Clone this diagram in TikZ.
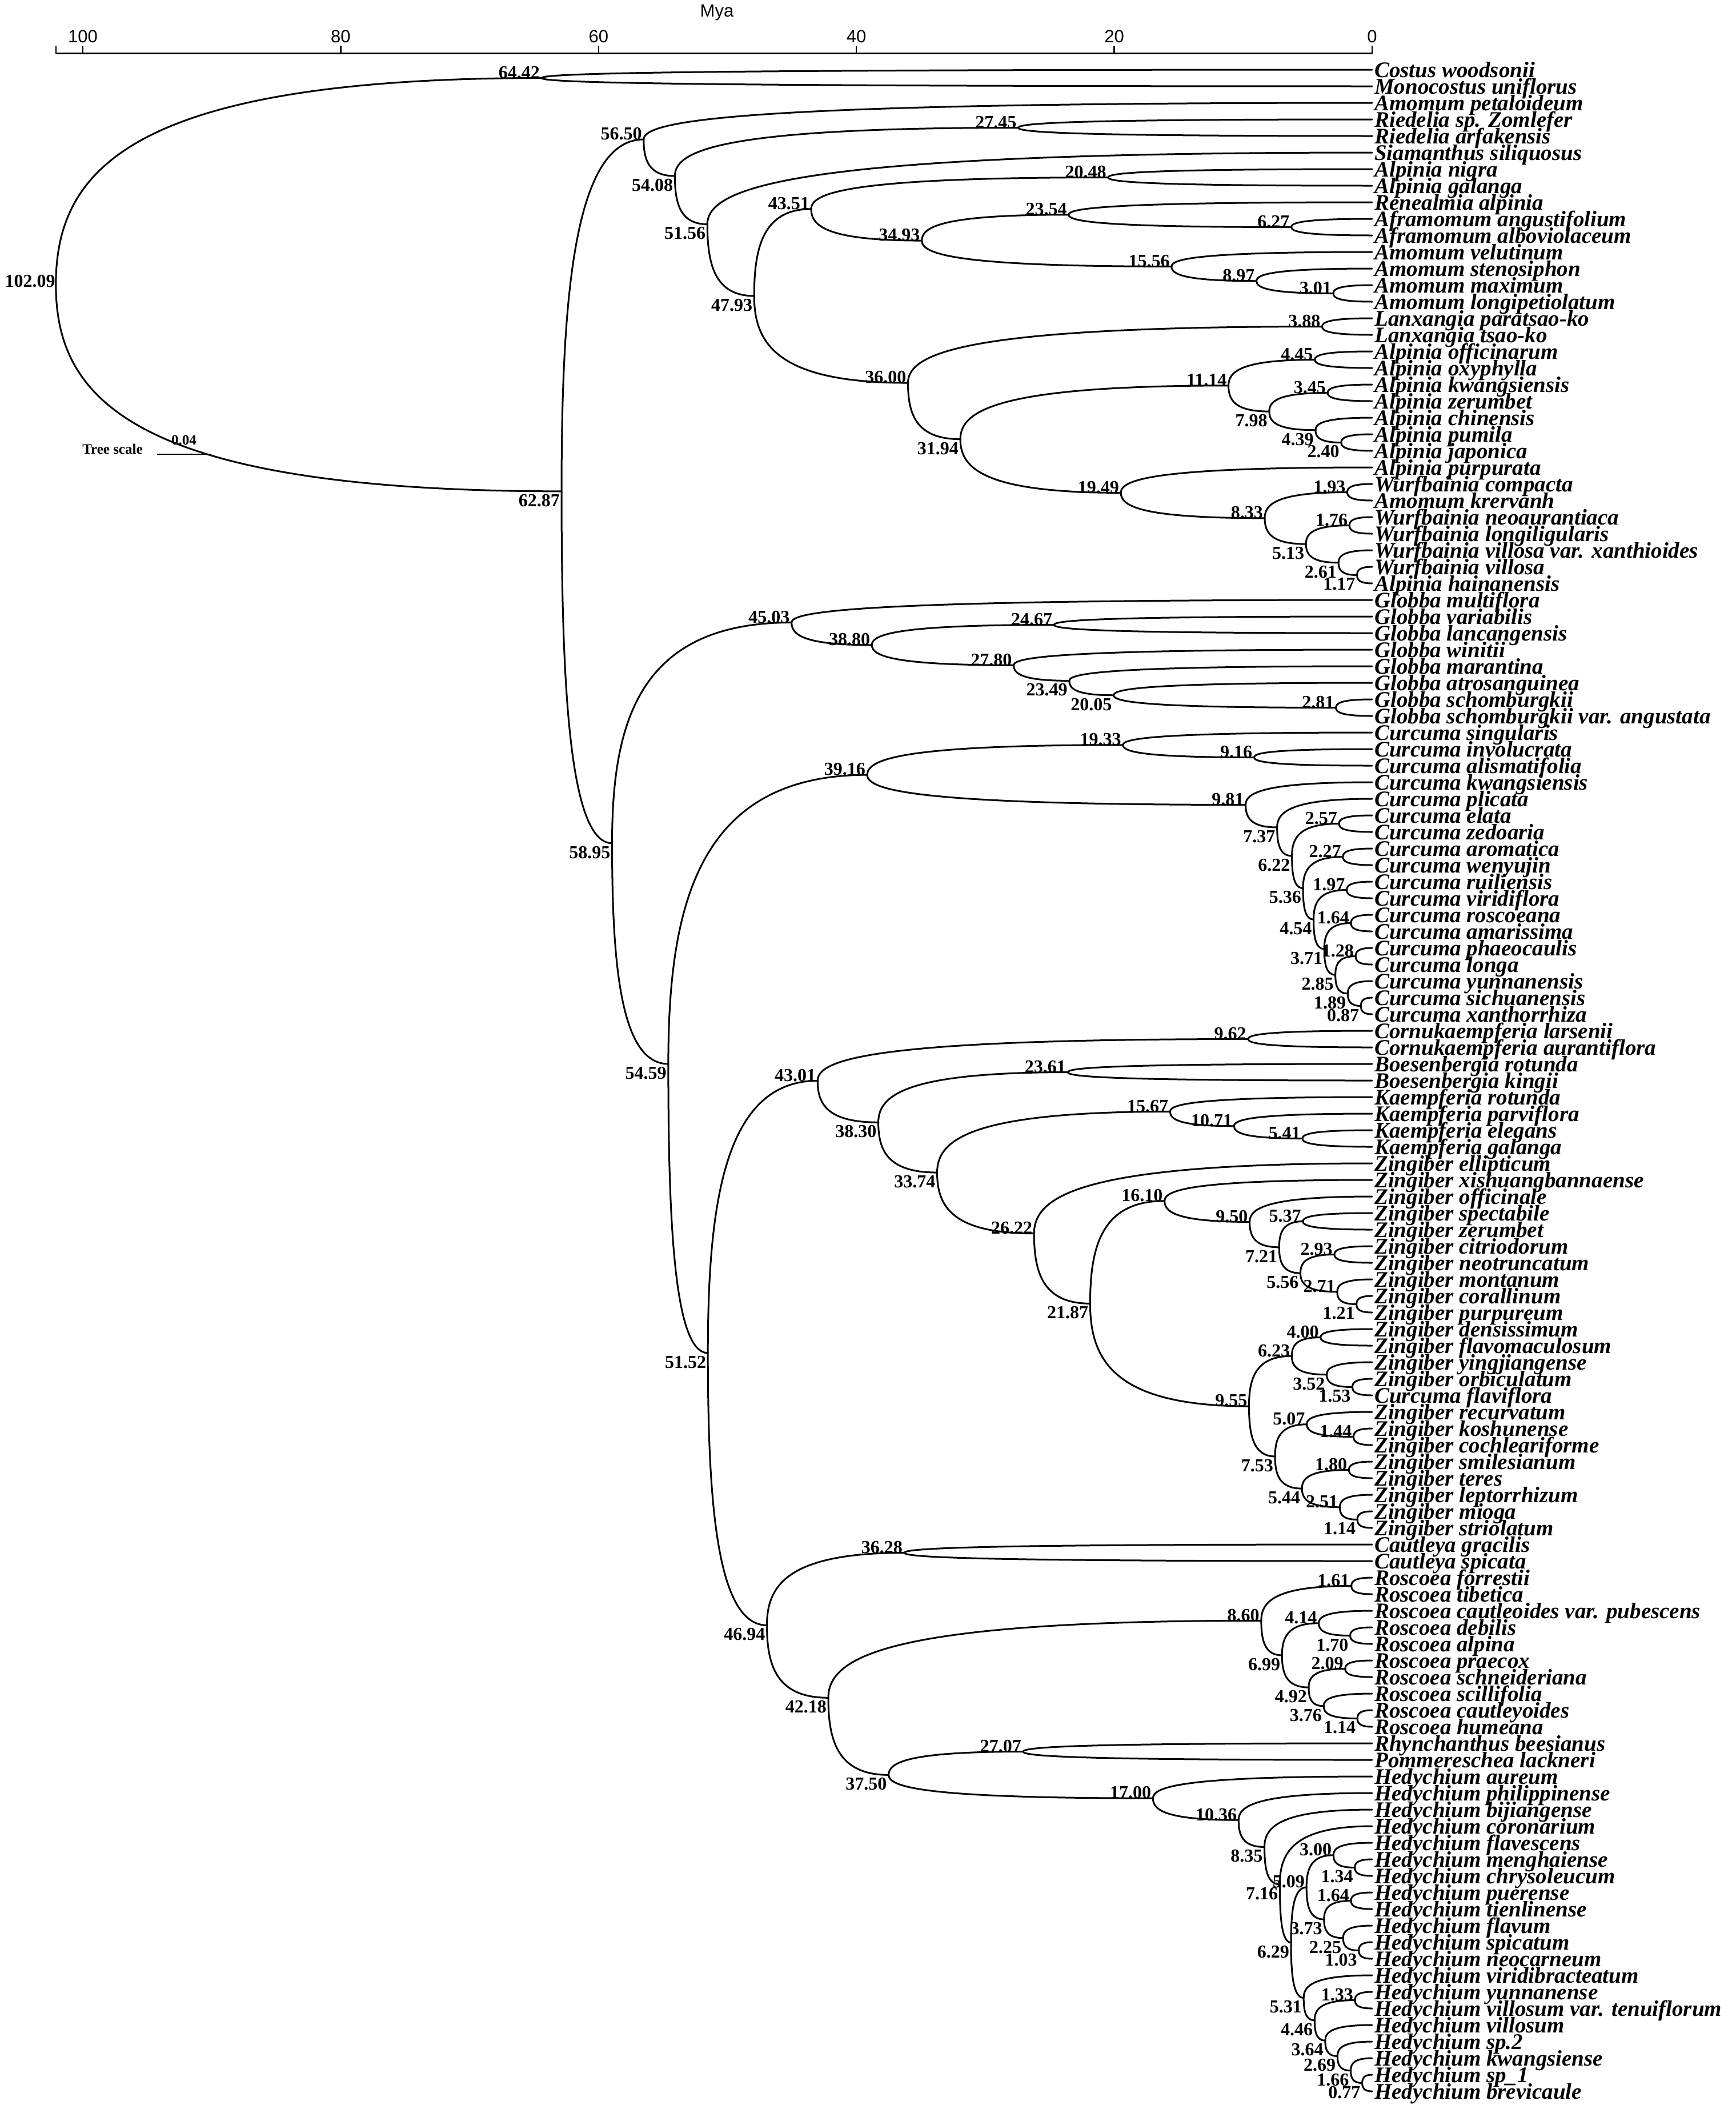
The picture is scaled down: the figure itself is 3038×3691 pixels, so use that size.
\documentclass[tikz,border=0pt]{standalone}
\usepackage{fontspec}
\setmainfont{Liberation Serif}
\newfontfamily\axisfont{Liberation Sans}
\usetikzlibrary{calc}
\tikzset{
 branch/.style={line width=3pt, line cap=round},
 nlab/.style={font=\bfseries\fontsize{32}{32}\selectfont, inner sep=0pt},
 lup/.style={anchor=south east, xshift=-3pt, yshift=-1.5pt},
 ldn/.style={anchor=north east, xshift=-3pt, yshift=-5pt},
 lroot/.style={anchor=east, xshift=-1pt, yshift=6pt},
 tiplab/.style={font=\bfseries\itshape\fontsize{39}{39}\selectfont, inner sep=0pt, anchor=base west},
 axlab/.style={font=\axisfont\fontsize{31}{31}\selectfont, inner sep=0pt},
 sclab/.style={font=\bfseries\fontsize{25}{25}\selectfont, inner sep=0pt},
}
\newcommand\mktip[2]{\coordinate (t#1) at (2402,{122+29*(#1-1)});
  \node[tiplab] (L#1) at ([xshift=4pt,yshift=-13pt]t#1) {#2};}
\newcommand\brn[2]{\draw[branch] let \p1=(#1), \p2=(#2) in (\p1) .. controls (\x1,{\y1+0.55*(\y2-(\y1))}) and ({\x1+0.15*(\x2-(\x1))},\y2) .. (\p2);}
\newcommand\mknd[5]{\path let \p1=($(#3)!.5!(#4)$) in coordinate (#1) at ({(2402-22.57*#2)*1pt},\y1);
  \brn{#1}{#3}\brn{#1}{#4}
  \node[nlab,#5] (lab#1) at (#1) {#2};}
\begin{document}
\begin{tikzpicture}[x=1pt,y=-1pt]
\useasboundingbox (0,0) rectangle (3038,3691);
\fill[white] (0,0) rectangle (3038,3691);
% axis
\coordinate (ax0) at (97.8,93.5);
\coordinate (ax1) at (2402,93.5);
\draw[line width=3.2pt] (ax0) -- (ax1);
\draw[line width=2.4pt] (97.8,80) -- (ax0);
\foreach \v in {100,80,60,40,20,0}{
  \draw[line width=2.4pt] ({2402-22.57*\v},80) -- ({2402-22.57*\v},93.5);
  \node[axlab] (tick\v) at ({2402-22.57*\v},64) {\v};
}
\node[axlab] (mya) at (1255,22) {Mya};
% tree scale
\node[sclab] (ts) at (197,786) {Tree scale};
\node[sclab] (tsv) at (322,770) {0.04};
\coordinate (tsa) at (275,795);
\coordinate (tsb) at (370,795);
\draw[line width=2.6pt] (tsa) -- (tsb);
% tips
\mktip{1}{Costus woodsonii}
\mktip{2}{Monocostus uniflorus}
\mktip{3}{Amomum petaloideum}
\mktip{4}{Riedelia sp. Zomlefer}
\mktip{5}{Riedelia arfakensis}
\mktip{6}{Siamanthus siliquosus}
\mktip{7}{Alpinia nigra}
\mktip{8}{Alpinia galanga}
\mktip{9}{Renealmia alpinia}
\mktip{10}{Aframomum angustifolium}
\mktip{11}{Aframomum alboviolaceum}
\mktip{12}{Amomum velutinum}
\mktip{13}{Amomum stenosiphon}
\mktip{14}{Amomum maximum}
\mktip{15}{Amomum longipetiolatum}
\mktip{16}{Lanxangia paratsao-ko}
\mktip{17}{Lanxangia tsao-ko}
\mktip{18}{Alpinia officinarum}
\mktip{19}{Alpinia oxyphylla}
\mktip{20}{Alpinia kwangsiensis}
\mktip{21}{Alpinia zerumbet}
\mktip{22}{Alpinia chinensis}
\mktip{23}{Alpinia pumila}
\mktip{24}{Alpinia japonica}
\mktip{25}{Alpinia purpurata}
\mktip{26}{Wurfbainia compacta}
\mktip{27}{Amomum krervanh}
\mktip{28}{Wurfbainia neoaurantiaca}
\mktip{29}{Wurfbainia longiligularis}
\mktip{30}{Wurfbainia villosa var. xanthioides}
\mktip{31}{Wurfbainia villosa}
\mktip{32}{Alpinia hainanensis}
\mktip{33}{Globba multiflora}
\mktip{34}{Globba variabilis}
\mktip{35}{Globba lancangensis}
\mktip{36}{Globba winitii}
\mktip{37}{Globba marantina}
\mktip{38}{Globba atrosanguinea}
\mktip{39}{Globba schomburgkii}
\mktip{40}{Globba schomburgkii var. angustata}
\mktip{41}{Curcuma singularis}
\mktip{42}{Curcuma involucrata}
\mktip{43}{Curcuma alismatifolia}
\mktip{44}{Curcuma kwangsiensis}
\mktip{45}{Curcuma plicata}
\mktip{46}{Curcuma elata}
\mktip{47}{Curcuma zedoaria}
\mktip{48}{Curcuma aromatica}
\mktip{49}{Curcuma wenyujin}
\mktip{50}{Curcuma ruiliensis}
\mktip{51}{Curcuma viridiflora}
\mktip{52}{Curcuma roscoeana}
\mktip{53}{Curcuma amarissima}
\mktip{54}{Curcuma phaeocaulis}
\mktip{55}{Curcuma longa}
\mktip{56}{Curcuma yunnanensis}
\mktip{57}{Curcuma sichuanensis}
\mktip{58}{Curcuma xanthorrhiza}
\mktip{59}{Cornukaempferia larsenii}
\mktip{60}{Cornukaempferia aurantiflora}
\mktip{61}{Boesenbergia rotunda}
\mktip{62}{Boesenbergia kingii}
\mktip{63}{Kaempferia rotunda}
\mktip{64}{Kaempferia parviflora}
\mktip{65}{Kaempferia elegans}
\mktip{66}{Kaempferia galanga}
\mktip{67}{Zingiber ellipticum}
\mktip{68}{Zingiber xishuangbannaense}
\mktip{69}{Zingiber officinale}
\mktip{70}{Zingiber spectabile}
\mktip{71}{Zingiber zerumbet}
\mktip{72}{Zingiber citriodorum}
\mktip{73}{Zingiber neotruncatum}
\mktip{74}{Zingiber montanum}
\mktip{75}{Zingiber corallinum}
\mktip{76}{Zingiber purpureum}
\mktip{77}{Zingiber densissimum}
\mktip{78}{Zingiber flavomaculosum}
\mktip{79}{Zingiber yingjiangense}
\mktip{80}{Zingiber orbiculatum}
\mktip{81}{Curcuma flaviflora}
\mktip{82}{Zingiber recurvatum}
\mktip{83}{Zingiber koshunense}
\mktip{84}{Zingiber cochleariforme}
\mktip{85}{Zingiber smilesianum}
\mktip{86}{Zingiber teres}
\mktip{87}{Zingiber leptorrhizum}
\mktip{88}{Zingiber mioga}
\mktip{89}{Zingiber striolatum}
\mktip{90}{Cautleya gracilis}
\mktip{91}{Cautleya spicata}
\mktip{92}{Roscoea forrestii}
\mktip{93}{Roscoea tibetica}
\mktip{94}{Roscoea cautleoides var. pubescens}
\mktip{95}{Roscoea debilis}
\mktip{96}{Roscoea alpina}
\mktip{97}{Roscoea praecox}
\mktip{98}{Roscoea schneideriana}
\mktip{99}{Roscoea scillifolia}
\mktip{100}{Roscoea cautleyoides}
\mktip{101}{Roscoea humeana}
\mktip{102}{Rhynchanthus beesianus}
\mktip{103}{Pommereschea lackneri}
\mktip{104}{Hedychium aureum}
\mktip{105}{Hedychium philippinense}
\mktip{106}{Hedychium bijiangense}
\mktip{107}{Hedychium coronarium}
\mktip{108}{Hedychium flavescens}
\mktip{109}{Hedychium menghaiense}
\mktip{110}{Hedychium chrysoleucum}
\mktip{111}{Hedychium puerense}
\mktip{112}{Hedychium tienlinense}
\mktip{113}{Hedychium flavum}
\mktip{114}{Hedychium spicatum}
\mktip{115}{Hedychium neocarneum}
\mktip{116}{Hedychium viridibracteatum}
\mktip{117}{Hedychium yunnanense}
\mktip{118}{Hedychium villosum var. tenuiflorum}
\mktip{119}{Hedychium villosum}
\mktip{120}{Hedychium sp.2}
\mktip{121}{Hedychium kwangsiense}
\mktip{122}{Hedychium sp\_1}
\mktip{123}{Hedychium brevicaule}
% internal nodes (bottom-up)
\mknd{A}{64.42}{t1}{t2}{lup}
\mknd{F}{27.45}{t4}{t5}{lup}
\mknd{K}{20.48}{t7}{t8}{lup}
\mknd{O}{6.27}{t10}{t11}{lup}
\mknd{M}{23.54}{t9}{O}{lup}
\mknd{Q}{3.01}{t14}{t15}{lup}
\mknd{P}{8.97}{t13}{Q}{lup}
\mknd{N}{15.56}{t12}{P}{lup}
\mknd{L}{34.93}{M}{N}{lup}
\mknd{I}{43.51}{K}{L}{lup}
\mknd{R}{3.88}{t16}{t17}{lup}
\mknd{V}{4.45}{t18}{t19}{lup}
\mknd{X}{3.45}{t20}{t21}{lup}
\mknd{Z}{2.40}{t23}{t24}{ldn}
\mknd{Y}{4.39}{t22}{Z}{ldn}
\mknd{W}{7.98}{X}{Y}{ldn}
\mknd{T}{11.14}{V}{W}{lup}
\mknd{AB}{1.93}{t26}{t27}{lup}
\mknd{AD}{1.76}{t28}{t29}{lup}
\mknd{AF}{1.17}{t31}{t32}{ldn}
\mknd{AE}{2.61}{t30}{AF}{ldn}
\mknd{AC}{5.13}{AD}{AE}{ldn}
\mknd{AA}{8.33}{AB}{AC}{lup}
\mknd{U}{19.49}{t25}{AA}{lup}
\mknd{S}{31.94}{T}{U}{ldn}
\mknd{J}{36.00}{R}{S}{lup}
\mknd{H}{47.93}{I}{J}{ldn}
\mknd{G}{51.56}{t6}{H}{ldn}
\mknd{E}{54.08}{F}{G}{ldn}
\mknd{C}{56.50}{t3}{E}{lup}
\mknd{AJ}{24.67}{t34}{t35}{lup}
\mknd{AN}{2.81}{t39}{t40}{lup}
\mknd{AM}{20.05}{t38}{AN}{ldn}
\mknd{AL}{23.49}{t37}{AM}{ldn}
\mknd{AK}{27.80}{t36}{AL}{lup}
\mknd{AI}{38.80}{AJ}{AK}{lup}
\mknd{AG}{45.03}{t33}{AI}{lup}
\mknd{AS}{9.16}{t42}{t43}{lup}
\mknd{AQ}{19.33}{t41}{AS}{lup}
\mknd{AV}{2.57}{t46}{t47}{lup}
\mknd{AX}{2.27}{t48}{t49}{lup}
\mknd{AZ}{1.97}{t50}{t51}{lup}
\mknd{BB}{1.64}{t52}{t53}{lup}
\mknd{BD}{1.28}{t54}{t55}{lup}
\mknd{BF}{0.87}{t57}{t58}{ldn}
\mknd{BE}{1.89}{t56}{BF}{ldn}
\mknd{BC}{2.85}{BD}{BE}{ldn}
\mknd{BA}{3.71}{BB}{BC}{ldn}
\mknd{AY}{4.54}{AZ}{BA}{ldn}
\mknd{AW}{5.36}{AX}{AY}{ldn}
\mknd{AU}{6.22}{AV}{AW}{ldn}
\mknd{AT}{7.37}{t45}{AU}{ldn}
\mknd{AR}{9.81}{t44}{AT}{lup}
\mknd{AO}{39.16}{AQ}{AR}{lup}
\mknd{BI}{9.62}{t59}{t60}{lup}
\mknd{BK}{23.61}{t61}{t62}{lup}
\mknd{BP}{5.41}{t65}{t66}{lup}
\mknd{BO}{10.71}{t64}{BP}{lup}
\mknd{BM}{15.67}{t63}{BO}{lup}
\mknd{BV}{5.37}{t70}{t71}{lup}
\mknd{BX}{2.93}{t72}{t73}{lup}
\mknd{BZ}{1.21}{t75}{t76}{ldn}
\mknd{BY}{2.71}{t74}{BZ}{lup}
\mknd{BW}{5.56}{BX}{BY}{ldn}
\mknd{BU}{7.21}{BV}{BW}{ldn}
\mknd{BT}{9.50}{t69}{BU}{lup}
\mknd{BR}{16.10}{t68}{BT}{lup}
\mknd{CC}{4.00}{t77}{t78}{lup}
\mknd{CE}{1.53}{t80}{t81}{ldn}
\mknd{CD}{3.52}{t79}{CE}{ldn}
\mknd{CA}{6.23}{CC}{CD}{lup}
\mknd{CH}{1.44}{t83}{t84}{lup}
\mknd{CF}{5.07}{t82}{CH}{lup}
\mknd{CI}{1.80}{t85}{t86}{lup}
\mknd{CK}{1.14}{t88}{t89}{ldn}
\mknd{CJ}{2.51}{t87}{CK}{lup}
\mknd{CG}{5.44}{CI}{CJ}{ldn}
\mknd{CB}{7.53}{CF}{CG}{ldn}
\mknd{BS}{9.55}{CA}{CB}{lup}
\mknd{BQ}{21.87}{BR}{BS}{ldn}
\mknd{BN}{26.22}{t67}{BQ}{lup}
\mknd{BL}{33.74}{BM}{BN}{ldn}
\mknd{BJ}{38.30}{BK}{BL}{ldn}
\mknd{BG}{43.01}{BI}{BJ}{lup}
\mknd{CL}{36.28}{t90}{t91}{lup}
\mknd{CP}{1.61}{t92}{t93}{lup}
\mknd{CT}{1.70}{t95}{t96}{ldn}
\mknd{CR}{4.14}{t94}{CT}{lup}
\mknd{CU}{2.09}{t97}{t98}{lup}
\mknd{CW}{1.14}{t100}{t101}{ldn}
\mknd{CV}{3.76}{t99}{CW}{ldn}
\mknd{CS}{4.92}{CU}{CV}{ldn}
\mknd{CQ}{6.99}{CR}{CS}{ldn}
\mknd{CN}{8.60}{CP}{CQ}{lup}
\mknd{CX}{27.07}{t102}{t103}{lup}
\mknd{DH}{1.34}{t109}{t110}{ldn}
\mknd{DF}{3.00}{t108}{DH}{lup}
\mknd{DI}{1.64}{t111}{t112}{lup}
\mknd{DK}{1.03}{t114}{t115}{ldn}
\mknd{DJ}{2.25}{t113}{DK}{ldn}
\mknd{DG}{3.73}{DI}{DJ}{ldn}
\mknd{DD}{5.09}{DF}{DG}{lup}
\mknd{DM}{1.33}{t117}{t118}{lup}
\mknd{DQ}{0.77}{t122}{t123}{ldn}
\mknd{DP}{1.66}{t121}{DQ}{ldn}
\mknd{DO}{2.69}{t120}{DP}{ldn}
\mknd{DN}{3.64}{t119}{DO}{ldn}
\mknd{DL}{4.46}{DM}{DN}{ldn}
\mknd{DE}{5.31}{t116}{DL}{ldn}
\mknd{DC}{6.29}{DD}{DE}{ldn}
\mknd{DB}{7.16}{t107}{DC}{ldn}
\mknd{DA}{8.35}{t106}{DB}{ldn}
\mknd{CZ}{10.36}{t105}{DA}{lup}
\mknd{CY}{17.00}{t104}{CZ}{lup}
\mknd{CO}{37.50}{CX}{CY}{ldn}
\mknd{CM}{42.18}{CN}{CO}{ldn}
\mknd{BH}{46.94}{CL}{CM}{ldn}
\mknd{AP}{51.52}{BG}{BH}{ldn}
\mknd{AH}{54.59}{AO}{AP}{ldn}
\mknd{D}{58.95}{AG}{AH}{ldn}
\mknd{B}{62.87}{C}{D}{ldn}
\mknd{root}{102.09}{A}{B}{lroot}
\end{tikzpicture}
\end{document}
